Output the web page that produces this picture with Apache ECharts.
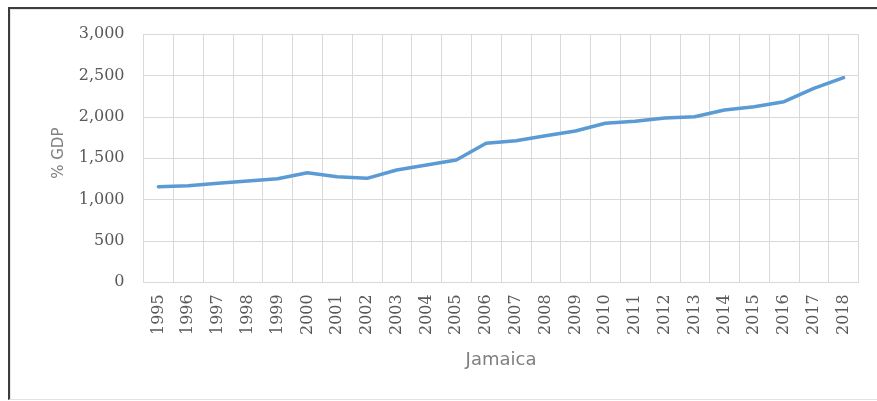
<!DOCTYPE html>
<html>
<head>
<meta charset="utf-8">
<script src="https://cdn.jsdelivr.net/npm/echarts@6/dist/echarts.min.js"></script>
<style>
  html, body { margin: 0; padding: 0; background: #ffffff; }
  #wrap { position: relative; width: 877px; height: 401px; overflow: hidden; background: #ffffff; }
  #frame { position: absolute; left: 8px; top: 7px; width: 900px; height: 390px;
           border-top: 2px solid #3c3c3c; border-left: 2px solid #3c3c3c; border-bottom: 1px solid #e2e2e2; }
  #inner { position: absolute; left: 0; top: 0; right: 0; bottom: 0; border-top: 1px solid #e6e6e6; border-left: 1px solid #e6e6e6; }
  #chart { position: absolute; left: 0; top: 0; width: 877px; height: 401px; }
</style>
</head>
<body>
<div id="wrap">
  <div id="frame"><div id="inner"></div></div>
  <div id="chart"></div>
</div>
<script>
const years = ['1995','1996','1997','1998','1999','2000','2001','2002','2003','2004','2005','2006',
               '2007','2008','2009','2010','2011','2012','2013','2014','2015','2016','2017','2018'];
const jamaica = [1155, 1167, 1196, 1224, 1252, 1324, 1276, 1256, 1357, 1417, 1478, 1679,
                 1711, 1771, 1828, 1921, 1945, 1985, 2001, 2082, 2122, 2182, 2343, 2472];
const yTicks = { min: 0, max: 3000, interval: 500 };
const xTitle = 'Jamaica';
const yTitle = '% GDP';

const chart = echarts.init(document.getElementById('chart'), null, { renderer: 'canvas' });
chart.setOption({
  backgroundColor: 'transparent',
  animation: false,
  grid: { left: 143.5, right: 18.5, top: 34, bottom: 118.7, containLabel: false },
  xAxis: {
    type: 'category',
    data: years,
    boundaryGap: true,
    name: xTitle,
    nameLocation: 'middle',
    nameGap: 69,
    nameTextStyle: { fontFamily: 'DejaVu Sans', fontSize: 18, color: '#7f7f7f' },
    axisLine: { show: true, lineStyle: { color: '#d9d9d9', width: 1 } },
    axisTick: { show: false },
    splitLine: { show: true, lineStyle: { color: '#d9d9d9', width: 1 } },
    axisLabel: { rotate: 90, margin: 12, interval: 0, fontFamily: 'DejaVu Serif', fontSize: 16, color: '#595959' }
  },
  yAxis: {
    type: 'value',
    min: yTicks.min, max: yTicks.max, interval: yTicks.interval,
    name: yTitle,
    nameLocation: 'middle',
    nameGap: 77,
    nameRotate: 90,
    nameTextStyle: { fontFamily: 'DejaVu Sans', fontSize: 15, color: '#7f7f7f', padding: [0, 0, 0, 10] },
    axisLine: { show: false },
    axisTick: { show: false },
    splitLine: { show: true, lineStyle: { color: '#d9d9d9', width: 1 } },
    axisLabel: {
      margin: 19, fontFamily: 'DejaVu Serif', fontSize: 16, color: '#595959',
      formatter: v => v.toLocaleString('en-US')
    }
  },
  series: [{
    type: 'line',
    data: jamaica,
    showSymbol: false,
    symbol: 'none',
    lineStyle: { color: '#5b9bd5', width: 3.5, cap: 'round', join: 'round' },
    itemStyle: { color: '#5b9bd5' }
  }]
});
</script>
</body>
</html>
